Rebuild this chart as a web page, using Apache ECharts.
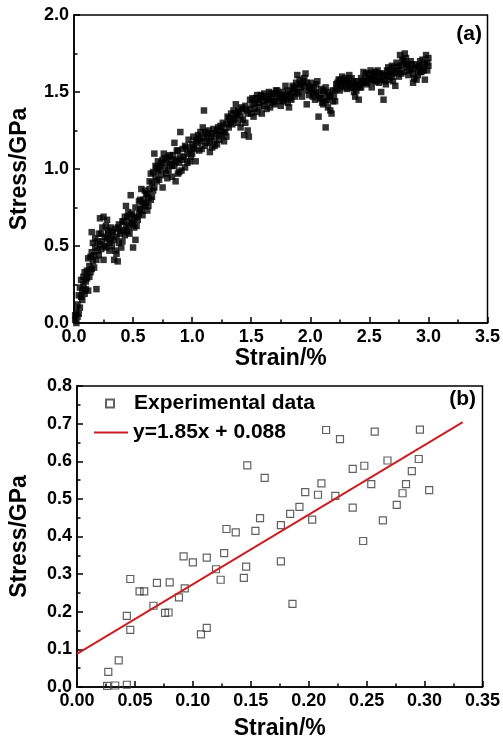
<!DOCTYPE html>
<html>
<head>
<meta charset="utf-8">
<script src="https://cdn.jsdelivr.net/npm/echarts@6/dist/echarts.min.js"></script>
<style>
  html, body { margin: 0; padding: 0; background: #fff; }
  #chart { width: 503px; height: 746px; }
</style>
</head>
<body>
<div id="chart"></div>
<script>
// (a) stress-strain curve, [strain %, stress GPa]
const curveA = [
  [0.01,0.02],[0.01,0.05],[0.02,0.08],[0.02,0.0],[0.03,0.04],[0.03,0.12],[0.04,0.06],[0.04,0.18],[0.05,0.10],[0.05,0.23],
  [0.06,0.17],[0.06,0.28],[0.07,0.21],[0.07,0.15],[0.08,0.25],[0.08,0.30],[0.09,0.19],[0.09,0.33],[0.10,0.27],[0.10,0.22],
  [0.11,0.34],[0.11,0.29],[0.12,0.21],[0.12,0.42],[0.13,0.30],[0.13,0.37],[0.14,0.43],[0.14,0.33],[0.15,0.59],[0.15,0.35],
  [0.15,0.46],[0.16,0.40],[0.16,0.52],[0.17,0.44],[0.17,0.36],[0.18,0.49],[0.18,0.55],[0.19,0.22],[0.19,0.41],[0.20,0.53],
  [0.20,0.47],[0.21,0.58],[0.21,0.44],[0.22,0.68],[0.22,0.51],[0.23,0.58],[0.23,0.48],[0.24,0.62],[0.24,0.53],[0.25,0.69],
  [0.25,0.41],[0.26,0.56],[0.26,0.50],[0.27,0.49],[0.27,0.63],[0.28,0.67],[0.28,0.55],[0.29,0.58],[0.29,0.60],[0.30,0.52],
  [0.30,0.47],[0.31,0.54],[0.31,0.62],[0.32,0.57],[0.32,0.50],[0.33,0.59],[0.34,0.41],[0.34,0.54],[0.35,0.47],[0.35,0.61],
  [0.36,0.45],[0.36,0.56],[0.37,0.40],[0.37,0.62],[0.38,0.64],[0.38,0.52],[0.39,0.58],[0.40,0.60],[0.40,0.49],[0.41,0.53],
  [0.41,0.66],[0.42,0.60],[0.43,0.57],[0.43,0.69],[0.44,0.76],[0.44,0.63],[0.45,0.69],[0.45,0.59],[0.46,0.72],[0.47,0.58],
  [0.47,0.66],[0.48,0.83],[0.48,0.70],[0.49,0.65],[0.50,0.64],[0.50,0.49],[0.51,0.62],[0.52,0.75],[0.52,0.54],[0.53,0.69],
  [0.54,0.67],[0.55,0.71],[0.55,0.79],[0.56,0.74],[0.57,0.73],[0.57,0.87],[0.58,0.77],[0.59,0.80],[0.60,0.86],[0.60,0.76],
  [0.61,0.78],[0.62,0.73],[0.62,0.84],[0.63,0.81],[0.64,0.87],[0.65,0.80],[0.65,0.97],[0.66,0.82],[0.66,0.91],[0.67,0.98],
  [0.68,0.88],[0.68,1.10],[0.69,0.95],[0.70,1.01],[0.71,0.99],[0.71,1.05],[0.72,0.93],[0.73,1.02],[0.74,0.96],[0.75,0.88],
  [0.75,1.06],[0.76,1.10],[0.77,1.00],[0.78,1.04],[0.79,0.94],[0.80,0.99],[0.80,1.08],[0.81,1.03],[0.82,1.06],[0.83,0.95],
  [0.84,1.09],[0.85,1.17],[0.85,1.02],[0.86,0.92],[0.87,1.06],[0.88,0.97],[0.88,1.12],[0.89,1.04],[0.90,1.24],[0.90,1.08],
  [0.91,0.99],[0.92,1.13],[0.93,1.08],[0.94,1.01],[0.95,1.14],[0.96,1.10],[0.97,1.19],[0.98,1.05],[0.99,1.08],[1.00,1.16],
  [1.00,1.10],[1.01,1.21],[1.02,1.13],[1.03,1.05],[1.04,1.19],[1.05,1.17],[1.05,1.22],[1.06,1.12],[1.07,1.24],[1.08,1.18],
  [1.09,1.27],[1.10,1.38],[1.10,1.20],[1.11,1.15],[1.12,1.23],[1.13,1.17],[1.14,1.25],[1.15,1.11],[1.16,1.21],[1.17,1.14],
  [1.18,1.26],[1.19,1.19],[1.20,1.23],[1.21,1.16],[1.22,1.27],[1.23,1.19],[1.24,1.28],[1.25,1.22],[1.26,1.30],[1.27,1.18],
  [1.28,1.24],[1.29,1.29],[1.30,1.34],[1.31,1.27],[1.32,1.31],[1.33,1.36],[1.34,1.29],[1.35,1.38],[1.36,1.33],[1.37,1.42],
  [1.38,1.35],[1.39,1.30],[1.40,1.37],[1.41,1.27],[1.42,1.40],[1.43,1.32],[1.44,1.22],[1.45,1.30],[1.46,1.38],[1.47,1.25],
  [1.48,1.21],[1.49,1.45],[1.50,1.36],[1.51,1.42],[1.52,1.34],[1.53,1.39],[1.54,1.46],[1.55,1.37],[1.56,1.43],[1.57,1.40],
  [1.58,1.48],[1.59,1.36],[1.60,1.44],[1.61,1.41],[1.62,1.47],[1.63,1.39],[1.64,1.45],[1.65,1.50],[1.66,1.40],[1.67,1.46],
  [1.68,1.43],[1.69,1.49],[1.70,1.42],[1.71,1.47],[1.72,1.51],[1.73,1.44],[1.74,1.48],[1.75,1.41],[1.76,1.46],[1.77,1.50],
  [1.78,1.45],[1.79,1.54],[1.80,1.47],[1.81,1.43],[1.82,1.40],[1.83,1.49],[1.84,1.45],[1.85,1.50],[1.86,1.53],[1.87,1.47],
  [1.88,1.56],[1.89,1.61],[1.90,1.50],[1.91,1.55],[1.92,1.53],[1.93,1.47],[1.94,1.57],[1.95,1.51],[1.96,1.62],[1.97,1.42],
  [1.98,1.54],[1.99,1.48],[2.00,1.51],[2.01,1.56],[2.02,1.47],[2.03,1.53],[2.04,1.45],[2.05,1.50],[2.06,1.57],[2.07,1.34],
  [2.08,1.46],[2.09,1.52],[2.10,1.43],[2.11,1.42],[2.12,1.49],[2.13,1.27],[2.13,1.53],[2.14,1.45],[2.15,1.40],[2.16,1.48],
  [2.17,1.38],[2.18,1.36],[2.19,1.51],[2.20,1.47],[2.21,1.44],[2.22,1.55],[2.23,1.52],[2.24,1.58],[2.25,1.51],[2.26,1.55],
  [2.27,1.60],[2.28,1.57],[2.29,1.53],[2.30,1.59],[2.31,1.52],[2.32,1.56],[2.33,1.61],[2.34,1.53],[2.35,1.59],[2.36,1.55],
  [2.37,1.50],[2.38,1.47],[2.39,1.54],[2.40,1.57],[2.41,1.45],[2.42,1.53],[2.43,1.59],[2.44,1.56],[2.45,1.63],[2.46,1.58],
  [2.47,1.62],[2.48,1.55],[2.49,1.59],[2.50,1.57],[2.51,1.64],[2.52,1.53],[2.53,1.58],[2.54,1.61],[2.55,1.63],[2.56,1.57],
  [2.57,1.60],[2.58,1.56],[2.59,1.62],[2.60,1.50],[2.61,1.58],[2.62,1.45],[2.63,1.61],[2.64,1.55],[2.65,1.60],[2.66,1.66],
  [2.67,1.58],[2.68,1.63],[2.69,1.67],[2.70,1.57],[2.71,1.62],[2.72,1.54],[2.73,1.69],[2.74,1.64],[2.75,1.60],[2.76,1.74],
  [2.77,1.67],[2.78,1.71],[2.79,1.63],[2.80,1.75],[2.81,1.68],[2.82,1.66],[2.83,1.61],[2.84,1.64],[2.85,1.70],[2.86,1.68],
  [2.87,1.56],[2.88,1.59],[2.89,1.65],[2.90,1.58],[2.91,1.61],[2.92,1.67],[2.93,1.70],[2.94,1.63],[2.95,1.66],[2.96,1.64],
  [2.97,1.58],[2.98,1.74],[2.99,1.69],[3.00,1.67],[3.00,1.72],
  [0.42,0.66],[0.46,0.62],[0.49,0.71],[0.51,0.68],[0.53,0.63],[0.56,0.80],[0.58,0.70],[0.61,0.84],[0.63,0.76],[0.64,0.92],
  [0.67,0.86],[0.69,1.02],[0.70,0.92],[0.72,1.00],[0.74,1.04],[0.77,1.07],[0.78,0.97],[0.81,1.09],[0.83,1.02],[0.86,1.05],
  [0.87,1.12],[0.89,0.98],[0.92,1.06],[0.94,1.15],[0.96,1.04],[0.98,1.12],[1.01,1.14],[1.03,1.18],[1.06,1.20],[1.08,1.13],
  [1.11,1.24],[1.13,1.21],[1.15,1.18],[1.17,1.23],[1.19,1.15],[1.21,1.25],[1.23,1.22],[1.25,1.26],[1.27,1.24],[1.29,1.21],
  [1.31,1.33],[1.33,1.30],[1.35,1.32],[1.37,1.36],[1.39,1.38],[1.41,1.34],[1.43,1.39],[1.45,1.41],[1.47,1.36],[1.49,1.39],
  [1.51,1.46],[1.53,1.43],[1.55,1.48],[1.57,1.45],[1.59,1.47],[1.61,1.49],[1.63,1.44],[1.65,1.45],[1.67,1.49],[1.69,1.44],
  [1.71,1.51],[1.73,1.49],[1.75,1.46],[1.77,1.44],[1.79,1.48],[1.81,1.51],[1.83,1.46],[1.85,1.54],[1.87,1.52],[1.89,1.49],
  [1.91,1.58],[1.93,1.55],[1.95,1.59],[1.97,1.56],[1.99,1.53],[2.01,1.52],[2.03,1.49],[2.05,1.55],[2.07,1.48],[2.09,1.46],
  [2.11,1.51],[2.13,1.44],[2.15,1.50],[2.17,1.47],[2.19,1.44],[2.21,1.51],[2.23,1.56],[2.25,1.58],[2.27,1.54],[2.29,1.58],
  [2.31,1.57],[2.33,1.55],[2.35,1.53],[2.37,1.57],[2.39,1.51],[2.41,1.55],[2.43,1.53],[2.45,1.57],[2.47,1.56],[2.49,1.62],
  [2.51,1.59],[2.53,1.62],[2.55,1.57],[2.57,1.64],[2.59,1.58],[2.61,1.62],[2.63,1.57],[2.65,1.64],[2.67,1.62],[2.69,1.60],
  [2.71,1.66],[2.73,1.63],[2.75,1.67],[2.77,1.62],[2.79,1.70],[2.81,1.72],[2.83,1.68],[2.85,1.65],[2.87,1.62],[2.89,1.68],
  [2.91,1.66],[2.93,1.63],[2.95,1.71],[2.97,1.68],[2.99,1.64]
];

// (b) experimental points, [strain %, stress GPa]
const experimentalB = [
  [0.026,0.003],[0.027,0.040],[0.033,0.004],[0.036,0.071],[0.043,0.006],[0.043,0.189],[0.046,0.152],[0.046,0.287],
  [0.054,0.254],[0.058,0.254],[0.066,0.216],[0.069,0.277],[0.076,0.197],[0.079,0.198],[0.080,0.278],[0.088,0.238],
  [0.093,0.262],[0.092,0.347],[0.100,0.331],[0.107,0.140],[0.112,0.157],[0.112,0.344],[0.120,0.313],[0.124,0.285],
  [0.127,0.356],[0.129,0.420],[0.137,0.411],[0.144,0.290],[0.146,0.320],[0.147,0.589],[0.154,0.415],[0.158,0.449],
  [0.162,0.556],[0.176,0.430],[0.176,0.334],[0.184,0.460],[0.192,0.479],[0.197,0.518],[0.186,0.221],[0.203,0.445],
  [0.208,0.511],[0.211,0.541],[0.215,0.683],[0.223,0.508],[0.227,0.659],[0.238,0.477],[0.238,0.580],[0.248,0.588],
  [0.247,0.388],[0.254,0.539],[0.257,0.679],[0.264,0.443],[0.268,0.602],[0.276,0.484],[0.281,0.515],[0.284,0.539],
  [0.289,0.574],[0.295,0.606],[0.296,0.684],[0.304,0.523]
];

// linear fit endpoints
const fitLineB = [[0, 0.088], [0.333, 0.704]];
const legendNames = ['Experimental data', 'y=1.85x + 0.088'];
const panelLabels = ['(a)', '(b)'];

const FONT = 'Liberation Sans, Arial, sans-serif';
const legendText = { fontFamily: FONT, fontWeight: 'bold', fontSize: 21, color: '#000' };

const axis = (gridIndex, min, max, interval, name, nameGap, digits) => ({
  type: 'value',
  gridIndex,
  min, max, interval,
  name,
  nameLocation: 'middle',
  nameGap,
  nameTextStyle: { fontFamily: FONT, fontWeight: 'bold', fontSize: 23, color: '#000' },
  axisLine: { show: true, onZero: false, lineStyle: { color: '#000', width: 1.5 } },
  axisTick: { show: true, inside: true, length: 6, lineStyle: { color: '#000', width: 1.5 } },
  minorTick: { show: true, splitNumber: 2, length: 3.5, lineStyle: { color: '#000', width: 1.5 } },
  splitLine: { show: false },
  axisLabel: {
    margin: 5,
    fontFamily: FONT, fontWeight: 'bold', fontSize: 18, color: '#000',
    formatter: v => v.toFixed(digits)
  }
});

const chart = echarts.init(document.getElementById('chart'), null, { renderer: 'canvas' });

const option = {
  animation: false,
  backgroundColor: '#fff',
  title: [
    { text: panelLabels[0], right: 21, top: 24, padding: 0,
      textStyle: { fontFamily: FONT, fontWeight: 'bold', fontSize: 21, color: '#000' } },
    { text: panelLabels[1], right: 27, top: 389, padding: 0,
      textStyle: { fontFamily: FONT, fontWeight: 'bold', fontSize: 21, color: '#000' } }
  ],
  grid: [
    { left: 73, top: 15, width: 415, height: 308, show: true, borderColor: '#000', borderWidth: 1.5 },
    { left: 76, top: 386, width: 407, height: 301, show: true, borderColor: '#000', borderWidth: 1.5 }
  ],
  xAxis: [
    axis(0, 0, 3.5, 0.5, 'Strain/%', 21, 1),
    axis(1, 0, 0.35, 0.05, 'Strain/%', 30, 2)
  ],
  yAxis: [
    axis(0, 0, 2, 0.5, 'Stress/GPa', 43, 1),
    axis(1, 0, 0.8, 0.1, 'Stress/GPa', 46, 1)
  ],
  legend: [
    {
      data: [legendNames[0]],
      left: 105, top: 393, padding: 0,
      icon: 'rect',
      itemWidth: 8, itemHeight: 8,
      textStyle: Object.assign({ padding: [0, 0, 0, 15] }, legendText)
    },
    {
      data: [legendNames[1]],
      left: 94, top: 422, padding: 0,
      icon: 'rect',
      itemWidth: 34, itemHeight: 2,
      textStyle: legendText
    }
  ],
  series: [
    {
      type: 'scatter',
      xAxisIndex: 0, yAxisIndex: 0,
      symbol: 'rect',
      symbolSize: 6.5,
      itemStyle: { color: '#000' },
      data: curveA
    },
    {
      name: legendNames[0],
      type: 'scatter',
      xAxisIndex: 1, yAxisIndex: 1,
      symbol: 'rect',
      symbolSize: 7,
      itemStyle: { color: 'transparent', borderColor: '#3a3a3a', borderWidth: 1.2 },
      data: experimentalB
    },
    {
      name: legendNames[1],
      type: 'line',
      xAxisIndex: 1, yAxisIndex: 1,
      symbol: 'none',
      lineStyle: { color: '#cc1f24', width: 2 },
      itemStyle: { color: '#cc1f24' },
      data: fitLineB
    }
  ]
};

chart.setOption(option);
</script>
</body>
</html>
